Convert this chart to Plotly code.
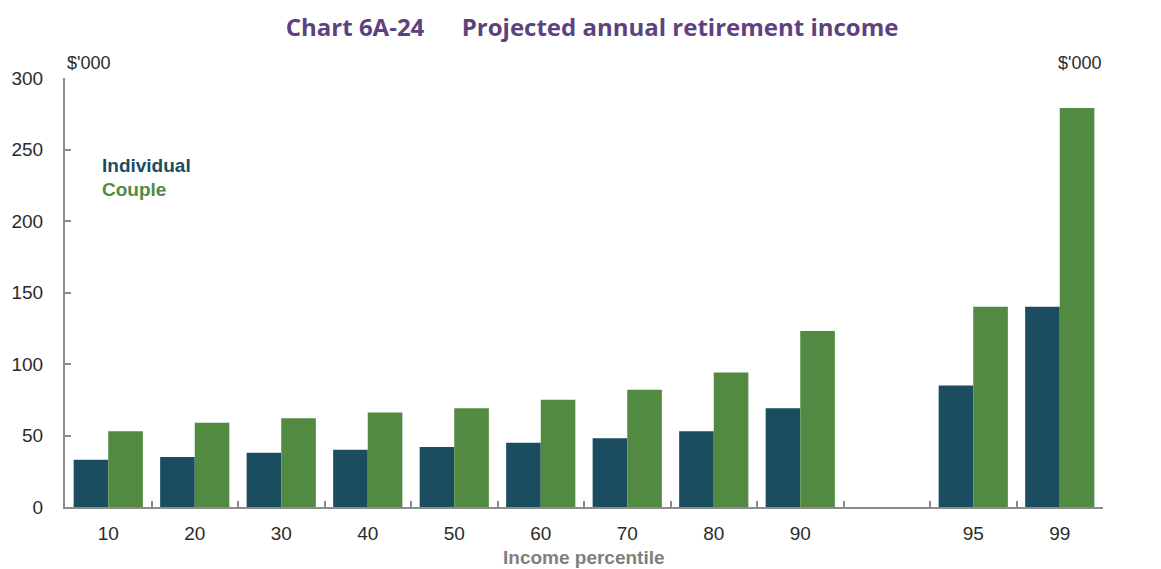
import plotly.graph_objects as go

categories = ["10", "20", "30", "40", "50", "60", "70", "80", "90", " ", "95", "99"]
individual = [33, 35, 38, 40, 42, 45, 48, 53, 69, None, 85, 140]
couple = [53, 59, 62, 66, 69, 75, 82, 94, 123, None, 140, 279]
y_ticks = [0, 50, 100, 150, 200, 250, 300]

IND_COLOR = "#1A4D5F"
COUPLE_COLOR = "#528A42"
AXIS_COLOR = "#8C8C8C"
TEXT_COLOR = "#2B2B2B"

fig = go.Figure()
fig.add_trace(go.Bar(x=categories, y=individual, name="Individual",
                     marker=dict(color=IND_COLOR, line=dict(width=0))))
fig.add_trace(go.Bar(x=categories, y=couple, name="Couple",
                     marker=dict(color=COUPLE_COLOR, line=dict(width=0))))

fig.update_layout(
    width=1161, height=569,
    margin=dict(l=65, r=58, t=78, b=62, autoexpand=False),
    paper_bgcolor="white", plot_bgcolor="white",
    barmode="group", bargap=0.2, bargroupgap=0,
    showlegend=False,
    font=dict(family="Liberation Sans, Arial", size=19, color=TEXT_COLOR),
    title=dict(text="<b>Chart 6A-24      Projected annual retirement income</b>",
               x=0.51, xanchor="center", y=0.951, yanchor="middle",
               font=dict(family="Open Sans", size=24, color="#5E4280")),
    xaxis=dict(type="category", categoryorder="array", categoryarray=categories,
               range=[-0.5, len(categories) - 0.5],
               showline=True, linecolor=AXIS_COLOR, linewidth=2,
               ticks="inside", tickson="boundaries", ticklen=6, tickcolor=AXIS_COLOR,
               tickwidth=2, showgrid=False, zeroline=False, ticklabelstandoff=8,
               tickfont=dict(size=19, color=TEXT_COLOR)),
    yaxis=dict(range=[0, 300], tickvals=y_ticks, showline=True, linecolor=AXIS_COLOR,
               linewidth=2, ticks="inside", ticklen=6, tickcolor=AXIS_COLOR, tickwidth=2,
               showgrid=False, zeroline=False, ticklabelstandoff=16,
               tickfont=dict(size=19, color=TEXT_COLOR)),
    yaxis2=dict(range=[0, 300], tickvals=y_ticks, overlaying="y", side="right", anchor="x",
                showline=True, linecolor=AXIS_COLOR, linewidth=2, ticks="inside",
                ticklen=6, tickcolor=AXIS_COLOR, tickwidth=2, showgrid=False,
                zeroline=False, ticklabelstandoff=16,
                tickfont=dict(size=19, color=TEXT_COLOR)),
)

fig.add_annotation(text="<b>Income percentile</b>", xref="paper", yref="paper",
                   x=0.5, y=-0.1166, xanchor="center", yanchor="middle", showarrow=False,
                   font=dict(size=19, color="#7F7F7F"))
fig.add_annotation(text="$'000", xref="paper", yref="paper", x=0.0, y=1.0,
                   xanchor="left", yanchor="bottom", showarrow=False, yshift=3,
                   font=dict(size=18, color=TEXT_COLOR))
fig.add_annotation(text="$'000", xref="paper", yref="paper", x=1.0, y=1.0,
                   xanchor="right", yanchor="bottom", showarrow=False, yshift=3,
                   font=dict(size=18, color=TEXT_COLOR))
fig.add_annotation(text="<b>Individual</b>", xref="paper", yref="paper", x=0.034, y=0.795,
                   xanchor="left", yanchor="middle", showarrow=False,
                   font=dict(size=19, color=IND_COLOR))
fig.add_annotation(text="<b>Couple</b>", xref="paper", yref="paper", x=0.034, y=0.739,
                   xanchor="left", yanchor="middle", showarrow=False,
                   font=dict(size=19, color=COUPLE_COLOR))

fig.write_html("out.html", config={"displayModeBar": False},
               post_script="document.body.style.margin='0';document.body.style.overflow='hidden';")
